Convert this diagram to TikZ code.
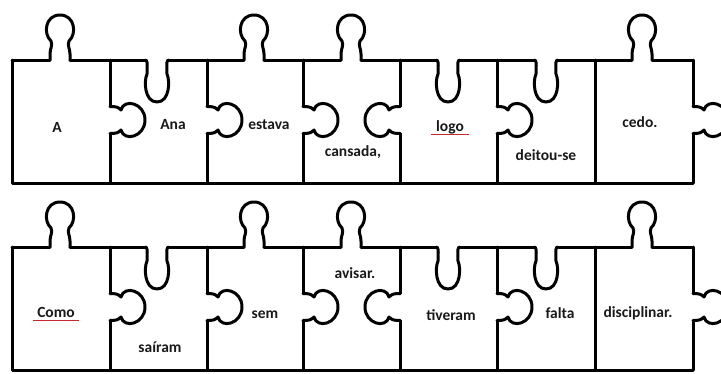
\documentclass[tikz,border=0pt]{standalone}
\usepackage{fontspec}
\newfontfamily\wordfont{Carlito}
\definecolor{spellred}{RGB}{200,40,45}
\tikzset{
  piece/.style={line width=3pt, line cap=round, line join=round},
  word/.style={font=\wordfont\bfseries\fontsize{15.5}{18}\selectfont, inner sep=1pt, text=black!90},
  spell/.style={draw=spellred, line width=1.4pt},
  % keyhole shaped tab, bump pointing to -y
  knob/.pic={\draw[piece] (-10,0) -- (-10,-6) .. controls (-10,-12) and (-7,-14) .. (-9,-19) .. controls (-17,-26) and (-15,-45) .. (0,-45) .. controls (15,-45) and (17,-26) .. (9,-19) .. controls (7,-14) and (10,-12) .. (10,-6) -- (10,0);},
  % U shaped slot cut into the top edge, pointing to +y
  slot/.pic={\draw[piece] (-11,0) .. controls (-9,2) and (-10,8) .. (-10,14) .. controls (-13,20) and (-13,42) .. (0,42) .. controls (13,42) and (13,20) .. (10,14) .. controls (10,8) and (9,2) .. (11,0);},
  % short round tab on the side edges
  sidetab/.pic={\draw[piece] (-13.5,0) .. controls (-13.5,-6) and (-13,-8) .. (-10,-11) .. controls (-22,-14) and (-17,-35) .. (0,-35) .. controls (17,-35) and (22,-14) .. (10,-11) .. controls (13,-8) and (13.5,-6) .. (13.5,0);}
}
\begin{document}
\begin{tikzpicture}[x=1pt, y=-1pt]
    \useasboundingbox (0,0) rectangle (721,373);
    \clip (0,0) rectangle (721,373);

    \foreach \t in {60,247} {
        % Top edge, open where the knobs and slots sit
        \draw[piece] (12,\t) -- (50,\t) (70,\t) -- (146,\t) (168,\t) -- (244,\t) (264,\t) -- (341,\t)
            (361,\t) -- (437,\t) (459,\t) -- (535,\t) (557,\t) -- (632,\t) (652,\t) -- (693,\t);
        \foreach \k in {60,254,351,642} \pic at (\k,\t) {knob};
        \foreach \s in {157,448,546} \pic at (\s,\t) {slot};

        % Left, bottom and plain edges
        \draw[piece] (12,\t) -- (12,\t+123) -- (693,\t+123);
        \draw[piece] (595,\t) -- (595,\t+123);

        % Edges with side tabs
        \foreach \v in {110,207,303,400,497,693}
            \draw[piece] (\v,\t) -- (\v,\t+46.5) (\v,\t+73.5) -- (\v,\t+123);
        \foreach \v in {110,207,303,497,693} \pic[rotate=-90] at (\v,\t+60) {sidetab};
        \pic[rotate=90] at (400,\t+60) {sidetab};
    }

    % First sentence
    \node[word] (a)       at (57,127)  {A};
    \node[word] (ana)     at (173,125) {Ana};
    \node[word] (estava)  at (269,125) {estava};
    \node[word] (cansada) at (353,152) {cansada,};
    \node[word] (logo)    at (450,127) {logo};
    \node[word] (deitou)  at (546,155) {deitou-se};
    \node[word] (cedo)    at (640,122) {cedo.};

    % Second sentence
    \node[word] (como)    at (56,312)  {Como};
    \node[word] (sairam)  at (160,347) {saíram};
    \node[word] (sem)     at (265,315) {sem};
    \node[word] (avisar)  at (355,273) {avisar.};
    \node[word] (tiveram) at (451,315) {tiveram};
    \node[word] (falta)   at (560,313) {falta};
    \node[word] (discipl) at (638,313) {disciplinar.};

    % Red underlines
    \draw[spell] ([xshift=-4pt,yshift=-3.5pt]logo.base west) -- ([xshift=4pt,yshift=-3.5pt]logo.base east);
    \draw[spell] ([xshift=-3pt,yshift=-3.5pt]como.base west) -- ([xshift=3pt,yshift=-3.5pt]como.base east);
\end{tikzpicture}
\end{document}
